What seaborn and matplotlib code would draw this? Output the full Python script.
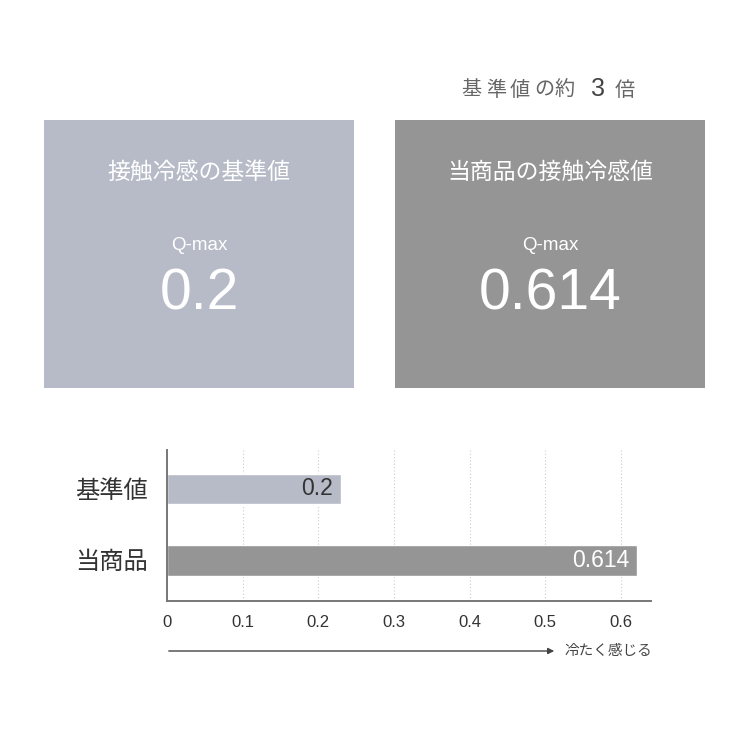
import matplotlib
matplotlib.use("Agg")
import matplotlib.pyplot as plt
import matplotlib.patches as mpatches
import seaborn as sns

# ---------------------------------------------------------------------------
# data

labels = ["基準値", "当商品"]
qmax_text = ["0.2", "0.614"]          # printed values
bar_len = [0.23, 0.622]               # bar lengths as drawn against the axis
box_titles = ["接触冷感の基準値", "当商品の接触冷感値"]
ticks = [0, 0.1, 0.2, 0.3, 0.4, 0.5, 0.6]
colors = ["#b7bbc7", "#959595"]

# ---------------------------------------------------------------------------

sns.set_theme(style="white")
plt.rcParams["font.family"] = ["Liberation Sans", "Noto Sans CJK JP", "DejaVu Sans"]

W = H = 750
fig = plt.figure(figsize=(7.5, 7.5), dpi=100)
fig.patch.set_facecolor("white")


def fx(px):
    return px / W


def fy(py):
    return 1 - py / H


# header "基準値の約 3 倍", spaced characters
head = ["基", "準", "値", "の", "約", "3", "倍"]
head_x = [471, 496, 520, 544, 565, 598, 625]
for ch, x in zip(head, head_x):
    if ch == "3":
        fig.text(fx(x), fy(89), ch, ha="center", va="center", fontsize=18,
                 color="#444444")
    else:
        fig.text(fx(x), fy(90), ch, ha="center", va="center", fontsize=14.5,
                 color="#666666")

# two value boxes
box_left = [44, 395]
for i in range(2):
    x0 = box_left[i]
    fig.patches.append(mpatches.Rectangle((fx(x0), fy(388)), 310 / W, 268 / H,
                                          transform=fig.transFigure,
                                          facecolor=colors[i], edgecolor="none"))
    cx = fx(x0 + 155)
    fig.text(cx, fy(172), box_titles[i], ha="center", va="center",
             fontsize=16.5, color="white")
    fig.text(cx, fy(245), "Q-max", ha="center", va="center", fontsize=13.5,
             color="white")
    fig.text(cx, fy(294), qmax_text[i], ha="center", va="center", fontsize=41,
             color="white")

# bar chart
ax = fig.add_axes([fx(167), fy(601), (651 - 167) / W, (601 - 450) / H])
sns.barplot(x=bar_len, y=labels, hue=labels, palette=colors, orient="h",
            width=0.42, legend=False, saturation=1, ax=ax)
ax.set_xlim(0, 0.64)
ax.set_ylim(1.566, -0.545)
ax.set_xticks(ticks)
ax.set_xticklabels(["0" if t == 0 else f"{t:.1f}" for t in ticks])
ax.tick_params(axis="x", length=0, pad=10, labelsize=12, labelcolor="#333333")
ax.tick_params(axis="y", length=0, pad=14, labelsize=17.5, labelcolor="#333333")
ax.set_xlabel("")
ax.set_ylabel("")
for t in ticks[1:]:
    ax.axvline(t, color="#cccccc", lw=0.8, ls=(0, (1, 2)), zorder=0)
for s in ["top", "right"]:
    ax.spines[s].set_visible(False)
for s in ["left", "bottom"]:
    ax.spines[s].set_color("#777777")
    ax.spines[s].set_linewidth(1.4)

txt_col = ["#333333", "white"]
for i, (v, t) in enumerate(zip(bar_len, qmax_text)):
    ax.text(v - 0.011, i, t, ha="right", va="center", fontsize=16.5,
            color=txt_col[i])

# arrow under the axis
fig.patches.append(mpatches.FancyArrowPatch((fx(166), fy(651)), (fx(557), fy(651)),
                                            transform=fig.transFigure,
                                            arrowstyle="-|>", mutation_scale=9,
                                            color="#444444", lw=1))
fig.text(fx(564), fy(651), "冷たく感じる", ha="left", va="center",
         fontsize=10.5, color="#444444")

fig.savefig("out.png", dpi=100)
